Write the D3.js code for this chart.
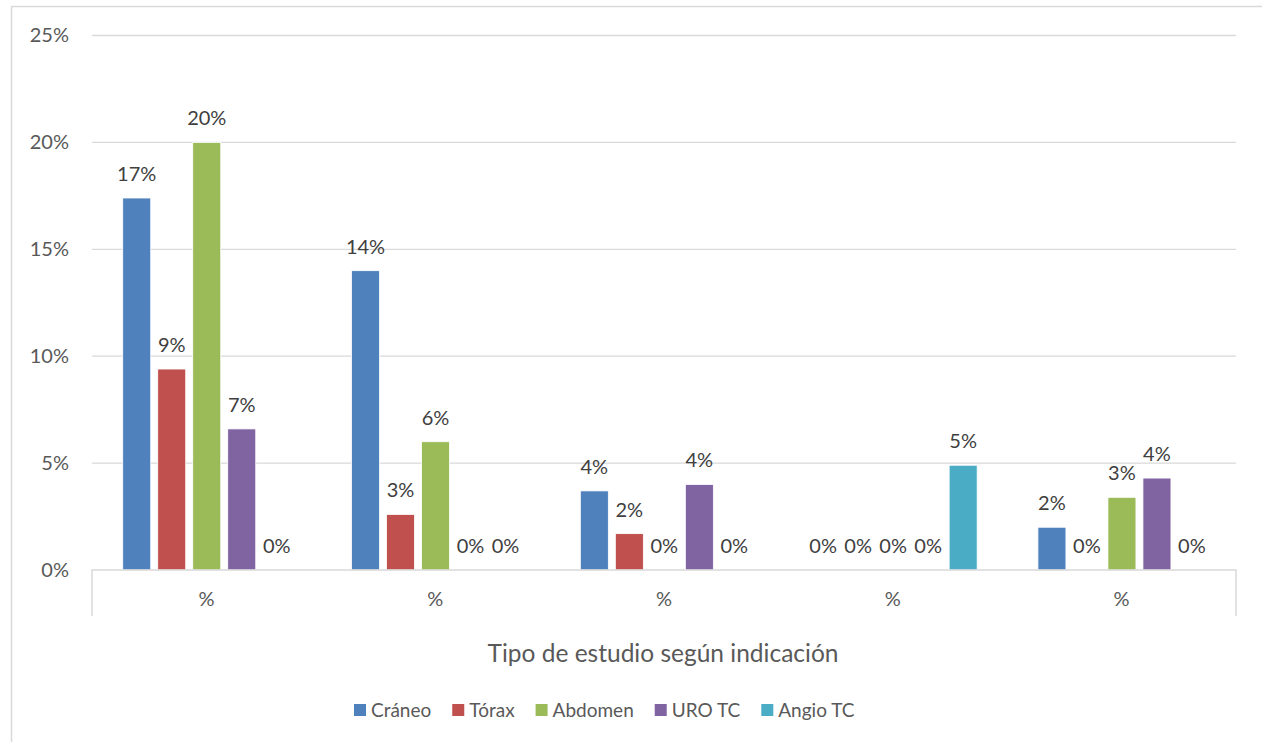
<!DOCTYPE html>
<html>
<head>
<meta charset="utf-8">
<script src="https://cdn.jsdelivr.net/npm/d3@7"></script>
<style>
  body { margin: 0; background: #fff; }
  svg { display: block; font-family: Lato, "Open Sans", sans-serif; }
</style>
</head>
<body>
<svg id="chart" width="1262" height="742"></svg>
<script>
// categories on the x axis (all read "%" in the original)
const categories = ["%", "%", "%", "%", "%"];
const seriesNames = ["Cráneo", "Tórax", "Abdomen", "URO TC", "Angio TC"];
const seriesColors = ["#4F81BD", "#C0504D", "#9BBB59", "#8064A2", "#4BACC6"];

// values in percent, one array per series (index = category)
const craneo  = [17.4, 14.0, 3.7, 0, 2.0];
const torax   = [9.4, 2.6, 1.7, 0, 0];
const abdomen = [20.0, 6.0, 0, 0, 3.4];
const uroTC   = [6.6, 0, 4.0, 0, 4.3];
const angioTC = [0, 0, 0, 4.9, 0];

const yTicks = [0, 5, 10, 15, 20, 25];
const xTitle = "Tipo de estudio según indicación";

const series = [craneo, torax, abdomen, uroTC, angioTC];

let margin = {top: 35.5, left: 92, right: 26, bottom: 172},
    width = 1262 - margin.left - margin.right,
    height = 742 - margin.top - margin.bottom;

let svg = d3.select("#chart");

// chart frame
svg.append("rect")
    .attr("x", 11.5).attr("y", 6.5)
    .attr("width", 1300).attr("height", 800)
    .attr("fill", "none").attr("stroke", "#D9D9D9").attr("stroke-width", 1.5);

let g = svg.append("g")
    .attr("transform", "translate(" + margin.left + "," + margin.top + ")");

let y = d3.scaleLinear().domain([0, 25]).range([height, 0]);
let x0 = d3.scaleBand().domain(d3.range(categories.length)).range([0, width]);
let cw = x0.bandwidth();
let x1 = d3.scaleBand().domain(d3.range(series.length))
    .range([cw * 0.119, cw * 0.884]).paddingInner(0.2).paddingOuter(0.1);

// gridlines
g.selectAll("line.grid")
    .data(yTicks.filter(t => t > 0))
    .enter().append("line")
    .attr("class", "grid")
    .attr("x1", 0).attr("x2", width)
    .attr("y1", d => y(d)).attr("y2", d => y(d))
    .attr("stroke", "#D9D9D9").attr("stroke-width", 1.3);

// y axis labels
let yAxis = d3.axisLeft(y).tickValues(yTicks).tickFormat(d => d + "%").tickSize(0).tickPadding(23);
g.append("g").call(yAxis)
    .call(a => a.select(".domain").remove())
    .selectAll("text")
    .attr("fill", "#595959").style("font-size", "20px")
    .style("font-family", "Lato, 'Open Sans', sans-serif");

// bars
let groups = g.selectAll("g.cat")
    .data(categories)
    .enter().append("g")
    .attr("class", "cat")
    .attr("transform", (d, i) => "translate(" + x0(i) + ",0)");

groups.selectAll("rect")
    .data((d, i) => series.map((s, k) => ({k: k, v: s[i]})))
    .enter().append("rect")
    .attr("x", d => x1(d.k))
    .attr("width", x1.bandwidth())
    .attr("y", d => y(d.v))
    .attr("height", d => y(0) - y(d.v))
    .attr("fill", d => seriesColors[d.k])
    .attr("stroke", "#fff").attr("stroke-width", 0.8);

// data labels
groups.selectAll("text.lbl")
    .data((d, i) => series.map((s, k) => ({k: k, v: s[i]})))
    .enter().append("text")
    .attr("class", "lbl")
    .attr("x", d => x1(d.k) + x1.bandwidth() / 2)
    .attr("y", d => y(d.v) - 17)
    .attr("text-anchor", "middle")
    .attr("fill", "#404040")
    .style("font-size", "20px")
    .text(d => Math.round(d.v) + "%");

// x axis line + end ticks
let xAxis = d3.axisBottom(x0).tickSize(0).tickFormat((d, i) => categories[i]).tickPadding(22);
let xa = g.append("g")
    .attr("transform", "translate(0," + height + ")")
    .call(xAxis);
xa.select(".domain").remove();
xa.selectAll("text").attr("fill", "#595959").style("font-size", "20px")
    .style("font-family", "Lato, 'Open Sans', sans-serif");

g.append("path")
    .attr("d", "M0," + (height + 46) + "V" + height + "H" + width + "V" + (height + 46))
    .attr("fill", "none").attr("stroke", "#D9D9D9").attr("stroke-width", 1.5);

// axis title
g.append("text")
    .attr("x", width / 2 - 1).attr("y", height + 92)
    .attr("text-anchor", "middle")
    .attr("fill", "#595959")
    .style("font-size", "24.5px")
    .text(xTitle);

// legend
let legend = svg.append("g").attr("transform", "translate(354,710)");
let lx = 0;
seriesNames.forEach((name, k) => {
    let item = legend.append("g").attr("transform", "translate(" + lx + ",0)");
    item.append("rect").attr("x", 0).attr("y", -6).attr("width", 12).attr("height", 12)
        .attr("fill", seriesColors[k]);
    let t = item.append("text").attr("x", 17).attr("y", 7)
        .attr("fill", "#595959").style("font-size", "19px").text(name);
    lx += 17 + t.node().getComputedTextLength() + 21;
});
</script>
</body>
</html>
